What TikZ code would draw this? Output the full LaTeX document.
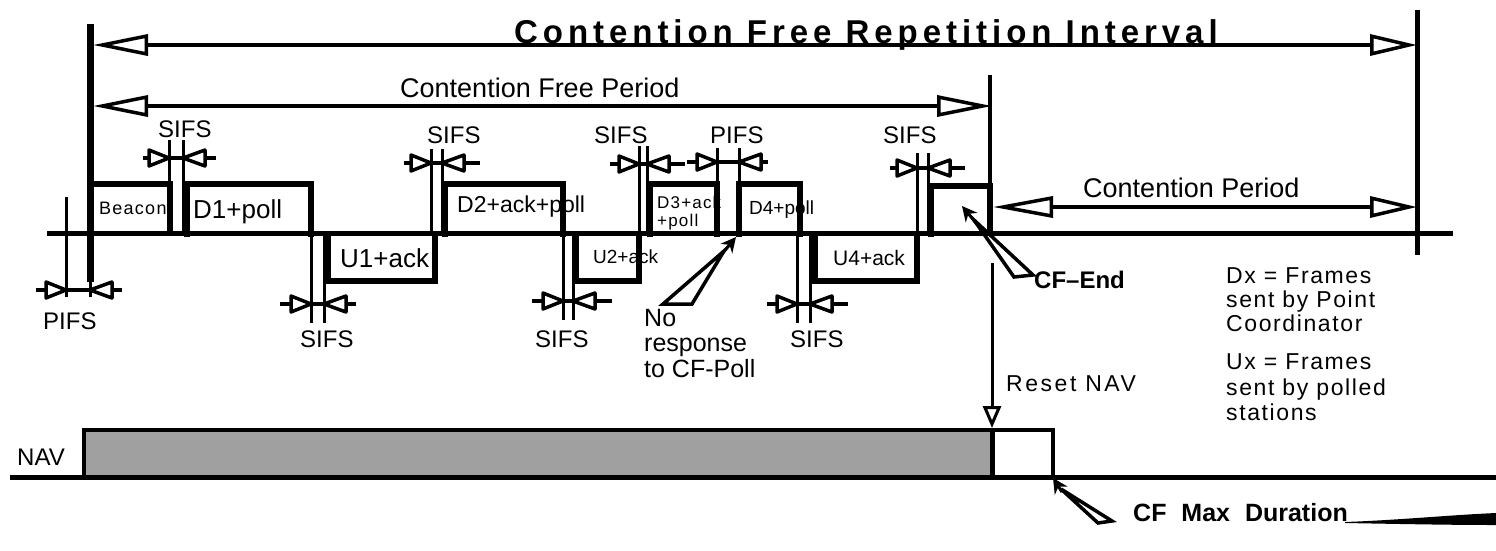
\documentclass[tikz,border=0pt]{standalone}
\usepackage{fontspec}
\setmainfont{Liberation Sans}
\newfontfamily\ttlfont[LetterSpace=15]{Liberation Sans}
\newfontfamily\spfont[LetterSpace=7]{Liberation Sans}
\newfontfamily\wdfont[LetterSpace=11]{Liberation Sans}
\usetikzlibrary{arrows.meta}
\definecolor{navgray}{RGB}{160,160,160}
\newcommand\fsz[1]{\fontsize{#1}{#1}\selectfont}
\newcommand\gapmk[5]{%
  \draw[gapbar] (#4,#3) -- (#5,#3);
  \filldraw[gaptri] (#1,#3) -- ++(-20,-8) -- ++(0,16) -- cycle;
  \filldraw[gaptri] (#2,#3) -- ++(22,-8) -- ++(0,16) -- cycle;}
\begin{document}
\begin{tikzpicture}[x=1pt,y=-1pt,
  lbl/.style={inner sep=0pt, anchor=base west},
  frame/.style={line width=6pt, line join=miter},
  meas/.style={line width=4pt},
  thinv/.style={line width=3pt},
  gapbar/.style={line width=3.5pt},
  gaptri/.style={line width=3.5pt, fill=white, line join=round},
  bigtip/.tip={Triangle[open,length=55pt,width=21pt,line width=3.5pt]},
  shorttip/.tip={Triangle[open,length=47pt,width=21pt,line width=3.5pt]},
  wedge/.style={line width=3.5pt, line join=miter},
  calltip/.style={line width=3pt, -{Stealth[length=15pt,width=15pt]}}
]
\useasboundingbox (0,0) rectangle (1496,550);

% main vertical markers
\draw[line width=7pt] (90,24) -- (90,282);
\draw[thinv] (90,282) -- (90,297);
\draw[line width=5pt] (1417,10) -- (1417,255);
\draw[line width=3.5pt] (990,75) -- (990,186);

% measurement arrows
\draw[meas, {bigtip}-{shorttip}] (93,45) -- (1417,45);
\draw[meas, {bigtip}-{bigtip}] (93,106) -- (992,106);
\draw[meas, {Triangle[open,length=60pt,width=21pt,line width=3.5pt]}-{shorttip}] (993,207) -- (1417,207);

% main time line
\draw[line width=5pt] (47,233) -- (1453,233);

% frames
\draw[frame] (90,184) -- (170,184) -- (170,233);
\draw[frame] (187,237) -- (187,184) -- (311,184) -- (311,237);
\draw[frame] (328,233) -- (328,281) -- (435,281) -- (435,233);
\draw[frame] (445,237) -- (445,184) -- (563,184) -- (563,237);
\draw[frame] (576,233) -- (576,281) -- (639,281) -- (639,233);
\draw[frame] (650,237) -- (650,184) -- (717,184) -- (717,237);
\draw[frame] (739,237) -- (739,184) -- (800,184) -- (800,237);
\draw[frame] (815,233) -- (815,281) -- (917,281) -- (917,233);
\draw[frame] (931,237) -- (931,186) -- (990,186) -- (990,233);

% gap markers
\gapmk{169}{183}{158}{143}{216}
\gapmk{431}{442}{163}{404}{480}
\gapmk{639}{647}{164}{610}{685}
\gapmk{717}{739}{162}{687}{768}
\gapmk{917}{928}{168}{890}{965}
\gapmk{66}{90}{290}{36}{122}
\gapmk{311}{324}{304}{280}{356}
\gapmk{563}{573}{301}{532}{612}
\gapmk{797}{810}{304}{767}{848}

% thin gap lines (top)
\draw[thinv] (169,140) -- (169,233);
\draw[thinv] (183,140) -- (183,233);
\draw[thinv] (431,149) -- (431,233);
\draw[thinv] (442,149) -- (442,233);
\draw[thinv] (639,146) -- (639,233);
\draw[thinv] (647,146) -- (647,233);
\draw[thinv] (717,148) -- (717,233);
\draw[thinv] (739,148) -- (739,233);
\draw[thinv] (917,153) -- (917,233);
\draw[thinv] (928,153) -- (928,233);
% thin gap lines (bottom)
\draw[thinv] (66,197) -- (66,297);
\draw[thinv] (90,282) -- (90,297);
\draw[thinv] (311,233) -- (311,323);
\draw[thinv] (324,233) -- (324,323);
\draw[thinv] (563,233) -- (563,320);
\draw[thinv] (573,233) -- (573,320);
\draw[thinv] (797,233) -- (797,323);
\draw[thinv] (810,233) -- (810,323);

% callouts
\draw[wedge] (663,304) -- (724,251) -- (692,304) -- cycle;
\draw[calltip] (722,254) -- (736,237);
\draw[wedge] (1014,277) -- (974,220) -- (1033,275) -- cycle;
\draw[calltip] (976,223) -- (962,206);
\draw[wedge] (1098,523) -- (1061,489) -- (1112,521) -- cycle;
\draw[calltip] (1062,492) -- (1053,478);

% NAV
\fill[navgray] (84,431) rectangle (992,476);
\draw[line width=3.5pt] (84,477) -- (84,430) -- (1053,430) -- (1053,477);
\draw[line width=5pt] (992,428) -- (992,477);
\draw[line width=5pt] (10,477) -- (1496,477);
\draw[line width=3pt, -{Triangle[open,length=22pt,width=18pt,line width=3pt]}] (992,263) -- (992,428);

% swoosh
\fill (1345,522) .. controls (1400,520) and (1450,515) .. (1496,513) -- (1496,525) .. controls (1450,525) and (1400,524) .. (1345,523) -- cycle;

% texts
\node[lbl] (title) at (514,43) {\ttlfont\bfseries\fsz{33}Contention Free Repetition Interval};
\node[lbl] (cfp) at (400,97) {\fsz{27}Contention Free Period};
\node[lbl] (cp) at (1083,197) {\fsz{27}Contention Period};

\node[lbl] (sA) at (158,137) {\fsz{24}SIFS};
\node[lbl] (sB) at (427,143) {\fsz{24}SIFS};
\node[lbl] (sC) at (594,143) {\fsz{24}SIFS};
\node[lbl] (pT) at (710,143) {\fsz{24}PIFS};
\node[lbl] (sD) at (883,143) {\fsz{24}SIFS};
\node[lbl] (pL) at (43,329) {\fsz{24}PIFS};
\node[lbl] (sE) at (300,347) {\fsz{24}SIFS};
\node[lbl] (sF) at (535,347) {\fsz{24}SIFS};
\node[lbl] (sG) at (790,347) {\fsz{24}SIFS};

\node[lbl] (tBeacon) at (99,214) {\spfont\fsz{18}Beacon};
\node[lbl] (tD1) at (193,218) {\fsz{26}D1+poll};
\node[lbl] (tU1) at (340,267) {\fsz{26}U1+ack};
\node[lbl] (tD2) at (457,212) {\fsz{23}D2+ack+poll};
\node[lbl] (tU2) at (593,263) {\fsz{19}U2+ack};
\node[lbl] (tD3a) at (657,208) {\spfont\fsz{17}D3+ack};
\node[lbl] (tD3b) at (657,226) {\spfont\fsz{17}+poll};
\node[lbl] (tD4) at (749,214) {\fsz{19}D4+poll};
\node[lbl] (tU4) at (833,265) {\fsz{21}U4+ack};

\node[lbl] (nr1) at (644,326) {\fsz{25}No};
\node[lbl] (nr2) at (644,351) {\fsz{25}response};
\node[lbl] (nr3) at (644,377) {\fsz{25}to CF-Poll};

\node[lbl] (cfend) at (1034,288) {\bfseries\fsz{24}CF–End};
\node[lbl] (dx1) at (1226,283) {\spfont\fsz{23}Dx = Frames};
\node[lbl] (dx2) at (1226,307) {\spfont\fsz{23}sent by Point};
\node[lbl] (dx3) at (1226,331) {\spfont\fsz{23}Coordinator};
\node[lbl] (ux1) at (1226,369) {\spfont\fsz{23}Ux = Frames};
\node[lbl] (ux2) at (1226,395) {\spfont\fsz{23}sent by polled};
\node[lbl] (ux3) at (1226,420) {\spfont\fsz{23}stations};

\node[lbl] (reset) at (1006,391) {\wdfont\fsz{23}Reset NAV};
\node[lbl] (nav) at (17,465) {\fsz{24}NAV};
\node[lbl] (cfmax) at (1133,521) {\bfseries\fsz{25}CF\hspace{8pt} Max\hspace{8pt} Duration};
\end{tikzpicture}
\end{document}
